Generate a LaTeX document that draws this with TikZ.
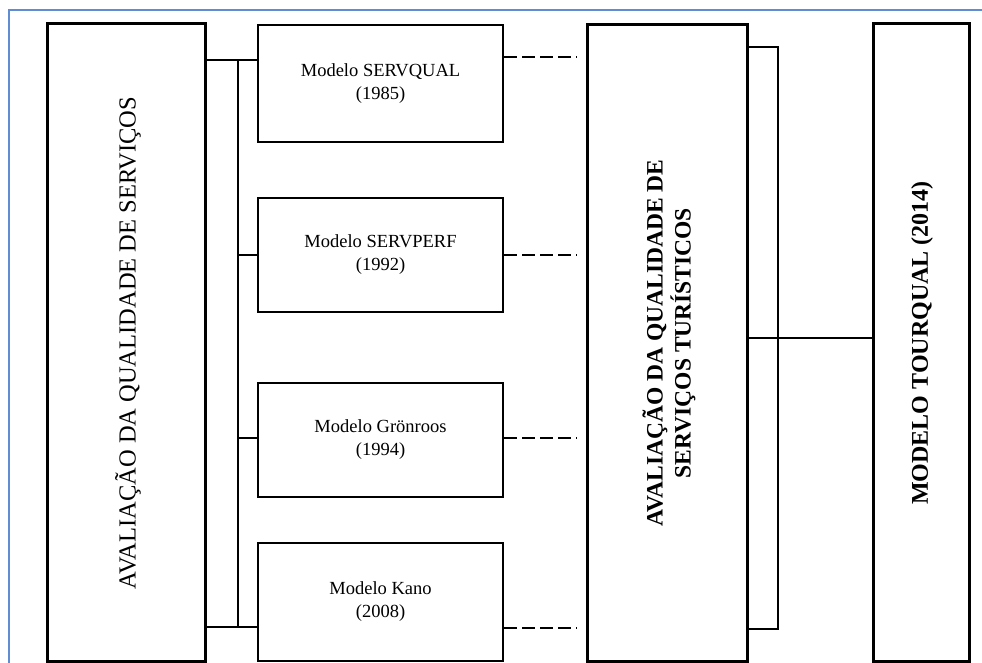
\documentclass[tikz,border=0pt]{standalone}
\usepackage{fontspec}
\setmainfont{Liberation Serif}
\definecolor{framebl}{RGB}{95,140,210}
\begin{document}
\begin{tikzpicture}[x=1pt, y=-1pt,
    bigbox/.style={draw, line width=3pt, inner sep=0pt},
    modelbox/.style={draw, line width=2pt, minimum width=245pt, inner sep=0pt, align=center, font=\fontsize{18.5}{23}\selectfont},
    vtext/.style={rotate=90, align=center, inner sep=0pt},
    link/.style={line width=2pt},
    thinlink/.style={line width=1.5pt},
    dashlink/.style={line width=2.6pt, dash pattern=on 13pt off 5pt}]
    \useasboundingbox (0,0) rectangle (982,663);
    \draw [framebl, line width=1.2pt] (9,700) -- (9,10) -- (990,10);

    \node [bigbox, minimum width=158pt, minimum height=637pt] (qual) at (126,342.5) {};
    \node [vtext, font=\fontsize{24.5}{28}\selectfont] (qualtext) at (128,343) {AVALIAÇÃO DA QUALIDADE DE SERVIÇOS};

    \node [modelbox, minimum height=117pt] (m1) at (380.5,83.5) {Modelo SERVQUAL\\(1985)};
    \node [modelbox, minimum height=114pt] (m2) at (380.5,255) {Modelo SERVPERF\\(1992)};
    \node [modelbox, minimum height=114pt] (m3) at (380.5,440) {Modelo Grönroos\\(1994)};
    \node [modelbox, minimum height=118pt] (m4) at (380.5,602) {Modelo Kano\\(2008)};

    \node [bigbox, minimum width=160pt, minimum height=636pt] (tur) at (667,343) {};
    \node [vtext, font=\bfseries\fontsize{23.5}{28}\selectfont] (turtext) at (669,343) {AVALIAÇÃO DA QUALIDADE DE\\SERVIÇOS TURÍSTICOS};

    \node [bigbox, minimum width=96pt, minimum height=637pt] (tq) at (921,342.5) {};
    \node [vtext, font=\bfseries\fontsize{24}{28}\selectfont] (tqtext) at (922,343) {MODELO TOURQUAL (2014)};

    \coordinate (bus) at (238,60);
    \coordinate (dashend) at (577,60);
    \coordinate (brk) at (778,47);

    % left side to the models
    \draw [link] (qual.east |- bus) -- (m1.west |- bus);
    \draw [link] (qual.east |- 0,627) -- (m4.west |- 0,627);
    \draw [link] (bus) -- (bus |- 0,627);
    \draw [link] (bus |- m2.west) -- (m2.west);
    \draw [link] (bus |- 0,438) -- (m3.west |- 0,438);

    % models to the middle box
    \draw [dashlink] (m1.east |- 0,57) -- (dashend |- 0,57);
    \draw [dashlink] (m2.east) -- (dashend |- m2.east);
    \draw [dashlink] (m3.east |- 0,438) -- (dashend |- 0,438);
    \draw [dashlink] (m4.east |- 0,628) -- (dashend |- 0,628);

    % bracket and link to TOURQUAL
    \draw [thinlink] (tur.east |- brk) -- (brk) -- (brk |- 0,629) -- (tur.east |- 0,629);
    \draw [thinlink] (tur.east |- 0,338) -- (tq.west |- 0,338);
\end{tikzpicture}
\end{document}
